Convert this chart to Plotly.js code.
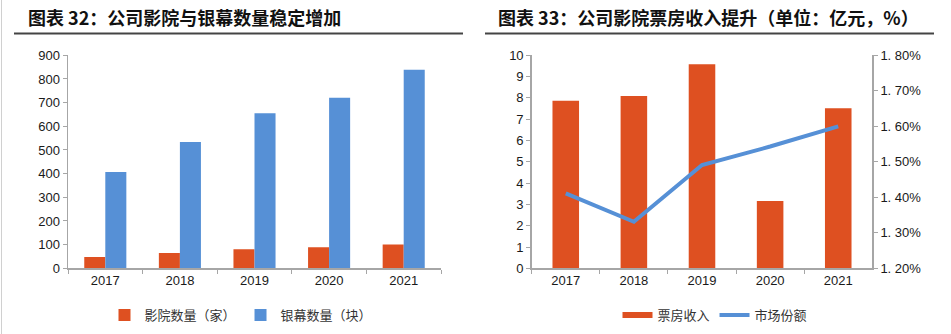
<!DOCTYPE html>
<html>
<head>
<meta charset="utf-8">
<script src="https://cdn.plot.ly/plotly-3.0.1.min.js"></script>
<style>html,body{margin:0;padding:0;background:#fff;}#chart{width:951px;height:334px;}</style>
</head>
<body>
<div id="chart"></div>
<script>
// ---- data ----
const years = ['2017', '2018', '2019', '2020', '2021'];
const cinemaCount = [48, 65, 80, 89, 101];          // 影院数量（家）
const screenCount = [407, 534, 655, 721, 839];      // 银幕数量（块）
const boxOffice = [7.87, 8.09, 9.58, 3.16, 7.51];   // 票房收入（亿元）
const marketShare = [1.411, 1.331, 1.491, 1.543, 1.600]; // 市场份额（%）
const shareTickVals = [1.2, 1.3, 1.4, 1.5, 1.6, 1.7, 1.8];
const shareTickText = ['1. 20%', '1. 30%', '1. 40%', '1. 50%', '1. 60%', '1. 70%', '1. 80%'];

const ORANGE = '#DE5021';
const BLUE = '#5690D6';
const AXIS = '#A6A6A6';
const W = 951, H = 334;
const px = v => v / W;
const py = v => 1 - v / H;

const traces = [
  {type: 'bar', name: '影院数量（家）', x: years, y: cinemaCount, xaxis: 'x', yaxis: 'y',
   marker: {color: ORANGE}, legend: 'legend', hoverinfo: 'y'},
  {type: 'bar', name: '银幕数量（块）', x: years, y: screenCount, xaxis: 'x', yaxis: 'y',
   marker: {color: BLUE}, legend: 'legend', hoverinfo: 'y'},
  {type: 'bar', name: '票房收入', x: years, y: boxOffice, xaxis: 'x2', yaxis: 'y2',
   marker: {color: ORANGE}, showlegend: false, width: 0.39, hoverinfo: 'y'},
  {type: 'scatter', mode: 'lines', name: '票房收入', x: years, y: years.map(() => null),
   xaxis: 'x2', yaxis: 'y2', line: {color: ORANGE, width: 6}, legend: 'legend2', hoverinfo: 'skip'},
  {type: 'scatter', mode: 'lines', name: '市场份额', x: years, y: marketShare, xaxis: 'x2', yaxis: 'y3',
   line: {color: BLUE, width: 4}, legend: 'legend2', hoverinfo: 'y'}
];

const tickFont = {family: 'Liberation Sans, Arial, sans-serif', size: 13, color: '#1a1a1a'};
const legendFont = {family: 'Noto Sans CJK SC, sans-serif', size: 13, color: '#333'};
const titleFont = {family: 'Noto Sans CJK SC, sans-serif', size: 18, color: '#111'};

const catAxis = {type: 'category', showline: true, linecolor: AXIS, linewidth: 1.5,
  ticks: 'outside', tickson: 'boundaries', ticklen: 4, tickcolor: AXIS, tickfont: tickFont,
  showgrid: false, zeroline: false, fixedrange: true};
const valAxis = {showline: true, linecolor: AXIS, linewidth: 1.5, ticks: 'outside', ticklen: 4,
  tickcolor: AXIS, tickfont: tickFont, showgrid: false, zeroline: false, fixedrange: true};

const layout = {
  width: W, height: H,
  margin: {l: 0, r: 0, t: 0, b: 0},
  paper_bgcolor: '#fff', plot_bgcolor: 'rgba(0,0,0,0)',
  barmode: 'group', bargap: 0.436, bargroupgap: 0,
  showlegend: true,
  xaxis: Object.assign({}, catAxis, {domain: [px(68), px(441)], anchor: 'y'}),
  yaxis: Object.assign({}, valAxis, {domain: [py(268.3), py(55.3)], range: [0, 900], dtick: 100, anchor: 'x'}),
  xaxis2: Object.assign({}, catAxis, {domain: [px(531.7), px(872.3)], anchor: 'y2'}),
  yaxis2: Object.assign({}, valAxis, {domain: [py(268.3), py(55.3)], range: [0, 10], dtick: 1, anchor: 'x2'}),
  yaxis3: Object.assign({}, valAxis, {domain: [py(268.3), py(55.3)], range: [1.2, 1.8], overlaying: 'y2',
    side: 'right', anchor: 'x2', tickvals: shareTickVals, ticktext: shareTickText}),
  legend: {orientation: 'h', x: px(241), xanchor: 'center', y: py(315), yanchor: 'middle',
    font: legendFont, bgcolor: 'rgba(0,0,0,0)', itemwidth: 30},
  legend2: {orientation: 'h', x: px(715), xanchor: 'center', y: py(315), yanchor: 'middle',
    font: legendFont, bgcolor: 'rgba(0,0,0,0)'},
  annotations: [
    {text: '<b>图表 32：公司影院与银幕数量稳定增加</b>', xref: 'paper', yref: 'paper', x: px(26), y: py(17),
     xanchor: 'left', yanchor: 'middle', showarrow: false, font: titleFont},
    {text: '<b>图表 33：公司影院票房收入提升（单位：亿元，%）</b>', xref: 'paper', yref: 'paper', x: px(496), y: py(17),
     xanchor: 'left', yanchor: 'middle', showarrow: false, font: titleFont}
  ],
  shapes: [
    {type: 'line', xref: 'paper', yref: 'paper', x0: px(14), x1: px(463), y0: py(33.5), y1: py(33.5),
     line: {color: '#444', width: 2}},
    {type: 'line', xref: 'paper', yref: 'paper', x0: px(485), x1: px(934), y0: py(33.5), y1: py(33.5),
     line: {color: '#444', width: 2}},
    {type: 'line', xref: 'paper', yref: 'paper', x0: px(1.5), x1: px(1.5), y0: 0, y1: 1,
     line: {color: '#d0d0d0', width: 1}}
  ]
};

Plotly.newPlot('chart', traces, layout, {displayModeBar: false, staticPlot: true});
</script>
</body>
</html>
